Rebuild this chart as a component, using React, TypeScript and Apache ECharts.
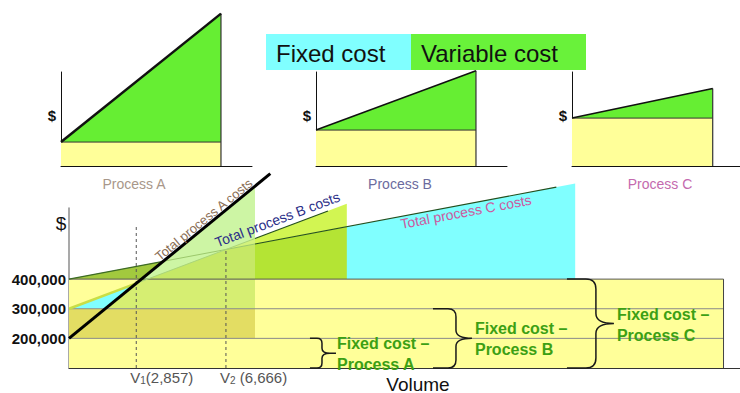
import { useEffect, useRef } from "react";
import * as echarts from "echarts";

// ---- data ----
const processes = ["Process A", "Process B", "Process C"];
const fixedCost = [200000, 300000, 400000]; // $
const variableCost = [65, 30, 15]; // $ per unit
const breakEvenVolumes = [2857, 6666];
const breakEvenSubscripts = ["1", "2"];
const breakEvenValueText = ["(2,857)", " (6,666)"];
const guideTop = [585000, 500000];
const yTickValues = [200000, 300000, 400000];
const lineLabels = ["Total process A costs", "Total process B costs", "Total process C costs"];
const legendItems = ["Fixed cost", "Variable cost"];

// volumes where each process' shaded area and drawn cost line stop
const shadeEnd = [7900, 11800, 21500];
const lineEnd = [8550, 11000, 20700];
const fixedBoxEnd = 27800;
const miniEnd = 16500;

// ---- layout / style ----
const FONT = "'Liberation Sans', Arial, Helvetica, sans-serif";
const Y_BASE = 100000; // bottom of the broken main value axis
const MAIN_X_MAX = 28500;
const MAIN_Y_MAX = 640000;
const MINI_X_MAX = 19700;
const MINI_Y_MAX = 785000;
const MINI_LEFT = [61, 316, 572];
// brace columns (volume units): start of the end strokes, stem, tip
const BRACE_X = [
  [10235, 10745, 11085],
  [15459, 16436, 17115],
  [21150, 22380, 23146],
];
const BRACE_R = [5, 8, 10];
const YELLOW = "#FFFF99";
const GREEN = "#69F23A";
const CYAN = "#80FFFF";
const LABEL_GREEN = "#3CA014";
const processLabelColor = ["#A8978A", "#6B6B9E", "#C46AAE"];
const lineLabelColor = ["#8A6E55", "#2B2E88", "#CC5AA0"];

const cost = (i: number, v: number) => fixedCost[i] + variableCost[i] * v;
const crossing = (i: number, j: number) =>
  (fixedCost[j] - fixedCost[i]) / (variableCost[i] - variableCost[j]);
const reach = (i: number, level: number) => (level - fixedCost[i]) / variableCost[i];

function bracePath(x0: number, xs: number, xt: number, yTop: number, yBot: number, r: number, tail: number) {
  const m = (yTop + yBot) / 2;
  let d =
    `M${x0},${yTop} L${xs - r},${yTop} Q${xs},${yTop} ${xs},${yTop + r} ` +
    `L${xs},${m - r} Q${xs},${m} ${xt},${m} Q${xs},${m} ${xs},${m + r} ` +
    `L${xs},${yBot - r} Q${xs},${yBot} ${xs - r},${yBot} L${x0},${yBot}`;
  if (tail > 0) d += ` M${xt},${m} L${xt + tail},${m}`;
  return d;
}

function renderMain(_params: any, api: any) {
  const P = (v: number, y: number) => api.coord([v, y]);
  const [F0, F1, F2] = fixedCost;
  const [xA, xB, xC] = shadeEnd;
  const A = (v: number) => cost(0, v);
  const B = (v: number) => cost(1, v);
  const C = (v: number) => cost(2, v);
  const vAB = crossing(0, 1);
  const vBC = crossing(1, 2);
  const vAC = crossing(0, 2);
  const vA300 = reach(0, F1);
  const vA400 = reach(0, F2);
  const vB400 = reach(1, F2);

  const poly = (pts: number[][], fill: string) => ({
    type: "polygon",
    shape: { points: pts.map((p) => P(p[0], p[1])) },
    style: { fill },
  });
  const line = (pts: number[][], stroke: string, lineWidth: number, lineDash?: number[]) => ({
    type: "polyline",
    shape: { points: pts.map((p) => P(p[0], p[1])) },
    style: { stroke, lineWidth, fill: "none", lineDash },
  });

  const children: any[] = [];
  // fixed cost box
  children.push(poly([[0, Y_BASE], [0, F2], [fixedBoxEnd, F2], [fixedBoxEnd, Y_BASE]], YELLOW));
  children.push(poly([[0, F0], [0, F1], [xA, F1], [xA, F0]], "#E3DD63"));
  // process C variable area
  children.push(poly([[0, F2], [xC, C(xC)], [xC, F2]], CYAN));
  // process B variable area (beyond process A's block)
  children.push(poly([[xA, F2], [xA, C(xA)], [xB, C(xB)], [xB, F2]], "#B4E434"));
  children.push(poly([[xA, C(xA)], [xA, B(xA)], [xB, B(xB)], [xB, C(xB)]], "#D2F552"));
  // process A block
  children.push(poly([[vA300, F1], [xA, A(xA)], [xA, F1]], "#CDF5A4"));
  children.push(poly([[vA300, F1], [vA400, F2], [xA, F2], [xA, F1]], "#D6EE72"));
  children.push(poly([[vB400, F2], [vBC, B(vBC)], [xA, C(xA)], [xA, F2]], "#C6E866"));
  children.push(poly([[vBC, B(vBC)], [xA, B(xA)], [xA, C(xA)]], "#D3F27C"));
  children.push(poly([[0, F2], [vAC, C(vAC)], [vA400, F2]], "#A2C93E"));
  children.push(poly([[0, F1], [vAB, B(vAB)], [vA300, F1]], CYAN));

  // box rules
  children.push(line([[0, F0], [fixedBoxEnd, F0]], "#8A8A8A", 1));
  children.push(line([[0, F1], [fixedBoxEnd, F1]], "#8A8A8A", 1));
  children.push(line([[0, F2], [fixedBoxEnd, F2]], "#555", 1));
  children.push(line([[fixedBoxEnd, Y_BASE], [fixedBoxEnd, F2]], "#444", 1));

  // total cost lines
  children.push(line([[0, F2], [vAC, C(vAC)]], "#3E6A25", 1.2));
  children.push(line([[vAC, C(vAC)], [xA, C(xA)]], "#9CC86C", 1));
  children.push(line([[xA, C(xA)], [lineEnd[2], C(lineEnd[2])]], "#254F1E", 1.2));
  children.push(line([[0, F1], [vAB, B(vAB)]], "#C9DE45", 2.5));
  children.push(line([[vAB, B(vAB)], [xA, B(xA)]], "#A9D47A", 1));
  children.push(line([[xA, B(xA)], [lineEnd[1], B(lineEnd[1])]], "#254F1E", 1.2));

  // break-even guides
  breakEvenVolumes.forEach((v, k) => {
    children.push(line([[v, Y_BASE], [v, guideTop[k]]], "#555", 1, [3, 3]));
  });

  children.push(line([[0, F0], [lineEnd[0], A(lineEnd[0])]], "#000", 3));

  // labels along the cost lines
  const along = (i: number, v: number, off: number, size: number) => {
    const p1 = P(0, fixedCost[i]);
    const p2 = P(lineEnd[i], cost(i, lineEnd[i]));
    const th = Math.atan2(p1[1] - p2[1], p2[0] - p1[0]);
    const p = P(v, cost(i, v));
    return {
      type: "text",
      x: p[0] - off * Math.sin(th),
      y: p[1] - off * Math.cos(th),
      rotation: th,
      style: {
        text: lineLabels[i],
        fill: lineLabelColor[i],
        fontSize: size,
        fontFamily: FONT,
        align: "center",
        verticalAlign: "middle",
      },
    };
  };
  children.push(along(0, 5900, 6.5, 13));
  children.push(along(1, 9000, 10, 14));
  children.push(along(2, 16800, -7.5, 14));

  // braces and fixed cost captions
  fixedCost.forEach((f, i) => {
    const [x0, xs, xt] = BRACE_X[i].map((v) => P(v, f)[0]);
    const yTop = P(0, f)[1];
    const yBot = P(0, Y_BASE)[1];
    const tail = i === 0 ? 6 : 0;
    children.push({
      type: "path",
      shape: { pathData: bracePath(x0, xs, xt, yTop, yBot, BRACE_R[i], tail) },
      style: { fill: "none", stroke: "#1a1a1a", lineWidth: 1.5 },
    });
    children.push({
      type: "text",
      x: xt + tail + (i === 0 ? 1 : 3),
      y: (yTop + yBot) / 2 + 1,
      style: {
        text: `Fixed cost \u2013\n${processes[i]}`,
        fill: LABEL_GREEN,
        fontSize: 16,
        fontWeight: "bold",
        fontFamily: FONT,
        lineHeight: 21,
        align: "left",
        verticalAlign: "middle",
      },
    });
  });

  // break-even volume labels under the axis
  breakEvenVolumes.forEach((v, k) => {
    const p = P(v, Y_BASE);
    children.push({
      type: "text",
      x: p[0] - 6,
      y: p[1] + 9,
      style: {
        text: `{v|V}{s|${breakEvenSubscripts[k]}}{v|${breakEvenValueText[k]}}`,
        align: "left",
        verticalAlign: "middle",
        rich: {
          v: { fontSize: 15, fontFamily: FONT, fill: "#555" },
          s: { fontSize: 10, fontFamily: FONT, fill: "#555", padding: [7, 0, 0, 0] },
        },
      },
    });
  });

  return { type: "group", children };
}

function renderMini(i: number) {
  return (_params: any, api: any) => {
    const P = (v: number, y: number) => api.coord([v, y]);
    const F = fixedCost[i];
    const top = cost(i, miniEnd);
    const pts = (a: number[][]) => a.map((p) => P(p[0], p[1]));
    return {
      type: "group",
      children: [
        { type: "polygon", shape: { points: pts([[0, 0], [0, F], [miniEnd, F], [miniEnd, 0]]) }, style: { fill: YELLOW } },
        { type: "polygon", shape: { points: pts([[0, F], [miniEnd, top], [miniEnd, F]]) }, style: { fill: "#66EE33" } },
        { type: "polyline", shape: { points: pts([[0, F], [miniEnd, F]]) }, style: { stroke: "#333", lineWidth: 1, fill: "none" } },
        { type: "polyline", shape: { points: pts([[miniEnd, 0], [miniEnd, top]]) }, style: { stroke: "#333", lineWidth: 1.2, fill: "none" } },
        { type: "polyline", shape: { points: pts([[0, F], [miniEnd, top]]) }, style: { stroke: "#111", lineWidth: i === 0 ? 2.5 : 1.5, fill: "none" } },
      ],
    };
  };
}

const hiddenAxis = {
  axisTick: { show: false },
  axisLabel: { show: false },
  splitLine: { show: false },
};

function buildOption(): any {
  const miniIdx = [1, 2, 3];
  return {
    animation: false,
    backgroundColor: "#ffffff",
    grid: [
      { left: 69, top: 208, width: 671, height: 160 },
      ...MINI_LEFT.map((left) => ({ left, top: 72, width: 191, height: 94 })),
    ],
    xAxis: [
      {
        gridIndex: 0,
        type: "value",
        min: 0,
        max: MAIN_X_MAX,
        axisLine: { show: true, lineStyle: { color: "#333", width: 1 } },
        ...hiddenAxis,
      },
      ...miniIdx.map((g) => ({
        gridIndex: g,
        type: "value",
        min: 0,
        max: MINI_X_MAX,
        axisLine: { show: true, lineStyle: { color: "#111", width: 1 } },
        ...hiddenAxis,
      })),
    ],
    yAxis: [
      {
        gridIndex: 0,
        type: "value",
        min: Y_BASE,
        max: MAIN_Y_MAX,
        interval: 100000,
        axisLine: { show: true, lineStyle: { color: "#8C8C8C", width: 1.5 } },
        axisTick: { show: false },
        splitLine: { show: false },
        axisLabel: {
          margin: 3,
          fontSize: 15,
          fontWeight: "bold",
          fontFamily: FONT,
          color: "#111",
          formatter: (v: number) => (yTickValues.includes(v) ? v.toLocaleString("en-US") : ""),
        },
      },
      ...miniIdx.map((g) => ({
        gridIndex: g,
        type: "value",
        min: 0,
        max: MINI_Y_MAX,
        axisLine: { show: true, lineStyle: { color: "#111", width: 1 } },
        ...hiddenAxis,
      })),
    ],
    series: [
      ...processes.map((_, i) => ({
        type: "custom",
        name: processes[i],
        xAxisIndex: i + 1,
        yAxisIndex: i + 1,
        clip: false,
        silent: true,
        data: [[0, 0]],
        renderItem: renderMini(i),
      })),
      {
        type: "custom",
        name: "Total costs",
        xAxisIndex: 0,
        yAxisIndex: 0,
        clip: false,
        silent: true,
        data: [[0, Y_BASE]],
        renderItem: renderMain,
      },
    ],
    graphic: [
      { type: "rect", shape: { x: 266, y: 34, width: 145, height: 36 }, style: { fill: CYAN } },
      { type: "rect", shape: { x: 411, y: 34, width: 175, height: 36 }, style: { fill: GREEN } },
      { type: "text", x: 276, y: 53, style: { text: legendItems[0], fontSize: 24, fontFamily: FONT, fill: "#111", align: "left", verticalAlign: "middle" } },
      { type: "text", x: 421, y: 53, style: { text: legendItems[1], fontSize: 24, fontFamily: FONT, fill: "#111", align: "left", verticalAlign: "middle" } },
      ...MINI_LEFT.map((left) => ({
        type: "text",
        x: left - 9,
        y: 115,
        style: { text: "$", fontSize: 15, fontWeight: "bold", fontFamily: FONT, fill: "#111", align: "center", verticalAlign: "middle" },
      })),
      ...processes.map((p, i) => ({
        type: "text",
        x: [134, 400, 660][i],
        y: 184,
        style: { text: p, fontSize: 14, fontFamily: FONT, fill: processLabelColor[i], align: "center", verticalAlign: "middle" },
      })),
      { type: "text", x: 61, y: 223, style: { text: "$", fontSize: 19, fontFamily: FONT, fill: "#111", align: "center", verticalAlign: "middle" } },
      { type: "text", x: 418, y: 384, style: { text: "Volume", fontSize: 19, fontFamily: FONT, fill: "#111", align: "center", verticalAlign: "middle" } },
    ],
  };
}

export default function App() {
  const ref = useRef<HTMLDivElement>(null);
  useEffect(() => {
    if (!ref.current) return;
    const chart = echarts.init(ref.current, undefined, { renderer: "svg" });
    chart.setOption(buildOption());
    return () => chart.dispose();
  }, []);
  return (
    <div
      ref={ref}
      style={{ position: "absolute", left: 0, top: 0, width: 740, height: 393, background: "#fff" }}
    />
  );
}
